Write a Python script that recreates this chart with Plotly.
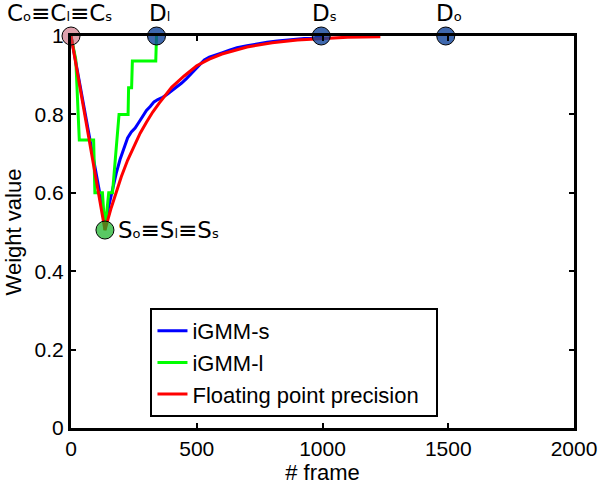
import plotly.graph_objects as go

# ---- data ----
red_frames = [0, 135, 160, 175, 200, 225, 250, 275, 300, 325, 350, 375, 400, 450, 500,
              550, 600, 700, 800, 900, 1000, 1100, 1230]
red_vals = [1.0, 0.505, 0.562, 0.592, 0.641, 0.683, 0.719, 0.752, 0.780, 0.806, 0.828,
            0.850, 0.869, 0.898, 0.924, 0.941, 0.954, 0.972, 0.983, 0.990, 0.994, 0.997, 0.998]

green_frames = [0, 19, 33, 90, 95, 125, 135, 150, 165, 172, 191, 227, 229, 241, 244, 337, 340]
green_vals = [1.0, 0.94, 0.735, 0.735, 0.60, 0.60, 0.505, 0.60, 0.60, 0.65, 0.80, 0.80,
              0.868, 0.868, 0.936, 0.936, 1.0]

blue_frames = [0, 137, 150, 165, 180, 195, 210, 225, 240, 255, 270, 285, 300, 315, 330,
               345, 360, 380, 400, 420, 440, 460, 480, 500, 515, 530, 550, 575, 600, 630,
               660, 700, 740, 780, 820, 870, 920, 970, 1000]
blue_vals = [1.0, 0.52, 0.565, 0.61, 0.65, 0.685, 0.715, 0.74, 0.755, 0.765, 0.78, 0.795,
             0.81, 0.82, 0.832, 0.838, 0.842, 0.85, 0.86, 0.868, 0.88, 0.892, 0.905, 0.918,
             0.93, 0.939, 0.946, 0.951, 0.957, 0.964, 0.97, 0.975, 0.98, 0.984, 0.987,
             0.99, 0.993, 0.996, 1.0]

# key points: C, S, D_l, D_s, D_o
pt_frames = [0, 135, 340, 995, 1490]
pt_vals = [1.0, 0.505, 1.0, 1.0, 1.0]
pt_colors = ["rgba(189,65,89,0.5)", "rgba(19,176,34,0.7)", "rgba(15,66,152,0.8)",
             "rgba(15,66,152,0.8)", "rgba(15,66,152,0.8)"]

x_ticks = [0, 500, 1000, 1500, 2000]
y_ticks = [0, 0.2, 0.4, 0.6, 0.8, 1]
y_ticklabels = ["0", "0.2", "0.4", "0.6", "0.8", "1"]

FONT = "Liberation Sans, Arial, sans-serif"
PAD = "\u00a0\u00a0"

fig = go.Figure()
fig.add_trace(go.Scatter(x=blue_frames, y=blue_vals, mode="lines", name="iGMM-s",
                         line=dict(color="#0000FF", width=3)))
fig.add_trace(go.Scatter(x=green_frames, y=green_vals, mode="lines", name="iGMM-l",
                         line=dict(color="#00FF00", width=3)))
fig.add_trace(go.Scatter(x=red_frames, y=red_vals, mode="lines",
                         name="Floating point precision" + PAD,
                         line=dict(color="#FF0000", width=3)))
fig.add_trace(go.Scatter(x=pt_frames, y=pt_vals, mode="markers", showlegend=False,
                         cliponaxis=False, hoverinfo="skip",
                         marker=dict(size=18, color=pt_colors, line=dict(color="black", width=1))))

def sub(s):
    return '<span style="font-size:13px">' + s + '</span>'

ann_font = dict(family="DejaVu Sans, sans-serif", size=23, color="black")
fig.add_annotation(x=0, y=1, xref="x", yref="y", text="C" + sub("o") + "≡C" + sub("l") + "≡C" + sub("s"),
                   showarrow=False, yshift=23, xshift=-12, font=ann_font)
for fx, s in zip(pt_frames[2:], ["l", "s", "o"]):
    fig.add_annotation(x=fx, y=1, xref="x", yref="y", text="D" + sub(s),
                       showarrow=False, yshift=23, xshift=3, font=ann_font)
fig.add_annotation(x=135, y=0.505, xref="x", yref="y", xanchor="left",
                   text="S" + sub("o") + "≡S" + sub("l") + "≡S" + sub("s"),
                   showarrow=False, xshift=11, font=ann_font)

axis_common = dict(showgrid=False, zeroline=False, showline=True, linecolor="black",
                   linewidth=3, mirror="ticks", ticks="inside", ticklen=5, tickwidth=2,
                   tickcolor="black", automargin=False,
                   tickfont=dict(family=FONT, size=21, color="black"))

fig.update_xaxes(range=[0, 2000], tickvals=x_ticks, ticktext=[str(v) for v in x_ticks],
                 title=dict(text="# frame", font=dict(family=FONT, size=22, color="black"),
                            standoff=4), **axis_common)
fig.update_yaxes(range=[0, 1], tickvals=y_ticks, ticktext=y_ticklabels,
                 title=dict(text="Weight value", font=dict(family=FONT, size=22, color="black"),
                            standoff=7), **axis_common)

fig.update_layout(
    width=600, height=486,
    margin=dict(l=71, r=26, t=36, b=58),
    plot_bgcolor="white", paper_bgcolor="white",
    font=dict(family=FONT, size=21, color="black"),
    legend=dict(x=0.158, y=0.306, xanchor="left", yanchor="top",
                bgcolor="white", bordercolor="black", borderwidth=2,
                font=dict(family=FONT, size=22, color="black"),
                tracegroupgap=0, itemwidth=30),
)

fig.write_html("out.html", config={"displayModeBar": False},
               post_script="document.body.style.margin='0px';")
